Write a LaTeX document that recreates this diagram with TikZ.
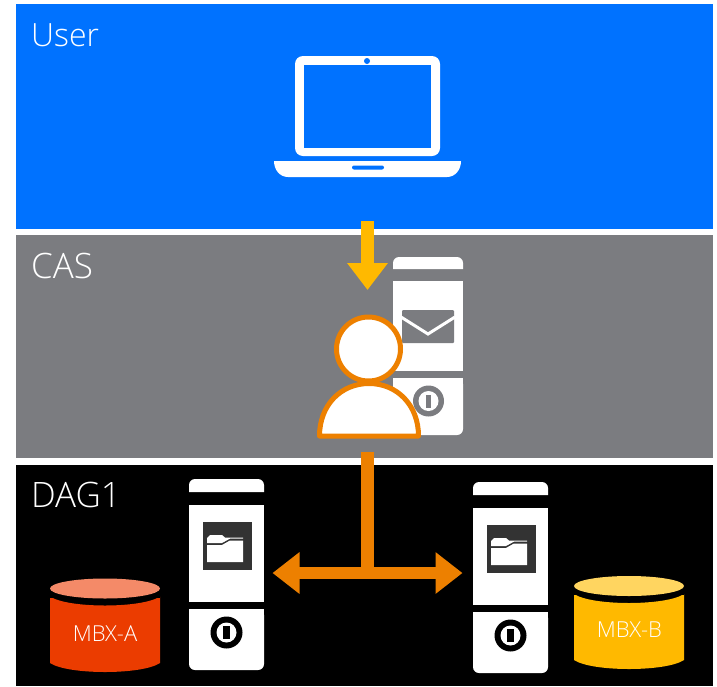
\documentclass[tikz,border=0pt]{standalone}
\usepackage{fontspec}
\setmainfont{Open Sans Light}
\usetikzlibrary{arrows.meta,calc}
\definecolor{userblue}{HTML}{0072FF}
\definecolor{casgray}{HTML}{7B7C80}
\definecolor{arrowyellow}{HTML}{FFB900}
\definecolor{arroworange}{HTML}{ED8000}
\definecolor{mbxa}{HTML}{EB3C00}
\definecolor{mbxatop}{HTML}{F48A68}
\definecolor{mbxb}{HTML}{FFB900}
\definecolor{mbxbtop}{HTML}{FFD560}
\definecolor{folderbg}{HTML}{333333}
\tikzset{
  band/.style={fill=#1,draw=none},
  tierlabel/.style={text=white,font=\fontsize{35}{40}\selectfont,anchor=west,inner sep=0pt},
  dblabel/.style={text=white,font=\fontsize{22}{26}\selectfont,inner sep=0pt},
  yarrow/.style={draw=arrowyellow,line width=13pt,-{Triangle[length=27pt,width=39pt]}},
  oarrow/.style={draw=arroworange,line width=12.6pt,-{Triangle[length=27pt,width=40pt]}},
  oline/.style={draw=arroworange,line width=13pt},
  personpart/.style={fill=white,draw=arroworange,line width=5pt,line join=round},
}
\newcommand{\powericon}[3]{% centre, colour, background
  \fill[#2] (#1) circle (15.5pt);
  \fill[#3] (#1) circle (10pt);
  \fill[#2] ($(#1)+(-2.8pt,-6.5pt)$) rectangle ($(#1)+(2.8pt,6.5pt)$);
}
\newcommand{\dbcyl}[6]{% left, right, top-y, bottom-y, body, top
  \fill[#5] (#1,#3+8) .. controls (#1+18,#3+20) and (#2-18,#3+20) .. (#2,#3+8)
     -- (#2,#4) .. controls (#2-18,#4+12) and (#1+18,#4+12) .. (#1,#4) -- cycle;
  \fill[black] (#1,#3) rectangle (#2,#3+9);
  \fill[black] (#1,#3+6) .. controls (#1+18,#3+19.5) and (#2-18,#3+19.5) .. (#2,#3+6) -- (#2,#3) -- (#1,#3) -- cycle;
  \fill[#6] ({(#1+#2)/2},#3) ellipse (55pt and 10pt);
}
\newcommand{\topcap}[4]{% left, right, top, bottom
  \fill[white,rounded corners=6pt] (#1,#4) -- (#1,#3) -- (#2,#3) [sharp corners] -- (#2,#4) -- cycle;
  \fill[white] (#1,#4) -- (#1,#3+6) -- (#2,#3+6) -- (#2,#4) -- cycle;
}
\newcommand{\botcap}[4]{% left, right, top, bottom
  \fill[white,rounded corners=6pt] (#1,#3) -- (#1,#4) -- (#2,#4) -- (#2,#3) -- cycle;
  \fill[white] (#1,#3) rectangle (#2,#4-6);
}
\newcommand{\dagserver}[2]{% x-left, y-top
  \topcap{#1}{#1+75}{#2}{#2+13}
  \fill[white] (#1,#2+26) rectangle (#1+75,#2+123);
  \botcap{#1}{#1+75}{#2+130}{#2+191}
  \fill[folderbg] (#1+14,#2+43) rectangle (#1+62.5,#2+91);
  \fill[white] (#1+18,#2+83) -- (#1+18,#2+66) -- (#1+33,#2+66) -- (#1+41,#2+61.5) -- (#1+54,#2+61.5) -- (#1+54,#2+83) -- cycle;
  \fill[white] (#1+18,#2+64) -- (#1+18,#2+59) -- (#1+21,#2+56) -- (#1+33,#2+56) -- (#1+36,#2+58.5) -- (#1+54,#2+58.5) -- (#1+54,#2+59.6) -- (#1+41,#2+59.6) -- (#1+33,#2+64) -- cycle;
  \fill[black] (#1+37.5,#2+153.5) circle (16pt);
  \fill[white] (#1+37.5,#2+153.5) circle (10pt);
  \fill[black] (#1+34.3,#2+147) rectangle (#1+40.7,#2+160);
}
\begin{document}
\begin{tikzpicture}[x=1pt,y=-1pt]
\useasboundingbox (0,0) rectangle (717,686);
\fill[white] (0,0) rectangle (717,686);
% bands
\fill[band=userblue] (16,4) rectangle (713,229);
\fill[band=casgray] (16,235) rectangle (713,458);
\fill[band=black] (16,465) rectangle (713,686);
\node[tierlabel,font=\fontsize{32}{36}\selectfont] (userlabel) at (31,35) {User};
\node[tierlabel] (caslabel) at (31,266) {CAS};
\node[tierlabel] (daglabel) at (31,495) {DAG1};
% laptop
\fill[white,rounded corners=8pt] (295,56) rectangle (440,156);
\fill[userblue] (304,65) rectangle (431,148);
\fill[userblue] (367,61) circle (3pt);
\fill[white] (274,161) -- (461,161) .. controls (461,170) and (455,177) .. (447,177)
  -- (288,177) .. controls (280,177) and (274,170) .. (274,161) -- cycle;
\fill[userblue,rounded corners=2pt] (352,165.5) rectangle (384,169.5);
% CAS server
\topcap{393}{463}{257}{269}
\fill[white] (393,281) rectangle (463,371);
\botcap{393}{463}{378}{435}
\fill[casgray,rounded corners=1pt] (402,310) rectangle (454,343);
\draw[white,line width=3pt] (401,317) -- (428,334) -- (455,317);
\coordinate (powerc) at (428.5,401);
\powericon{powerc}{casgray}{white}
% arrow user to CAS
\coordinate (arrowtop) at (367.5,221);
\coordinate (arrowend) at (367.5,290);
\draw[yarrow] (arrowtop) -- (arrowend);
% person
\draw[personpart] (319.5,436) .. controls (319.5,405) and (341,383.5) .. (369,383.5)
  .. controls (397,383.5) and (418.5,405) .. (418.5,436) -- cycle;
\node[personpart,circle,minimum size=64pt,inner sep=0pt] (head) at (368.5,349) {};
% DAG servers
\dagserver{189}{479}
\dagserver{473}{482}
% databases
\dbcyl{50}{160}{588.5}{663}{mbxa}{mbxatop}
\dbcyl{574}{684}{586}{660}{mbxb}{mbxbtop}
\node[dblabel] (mbxalabel) at (105,634) {MBX-A};
\node[dblabel] (mbxblabel) at (629.5,630) {MBX-B};
% arrows
\coordinate (stemtop) at (367.5,452);
\coordinate (junction) at (367.5,573);
\coordinate (tipl) at (272.5,573);
\coordinate (tipr) at (462.5,573);
\draw[oline] (stemtop) -- (junction);
\draw[oarrow] (junction) -- (tipl);
\draw[oarrow] (junction) -- (tipr);
\end{tikzpicture}
\end{document}
